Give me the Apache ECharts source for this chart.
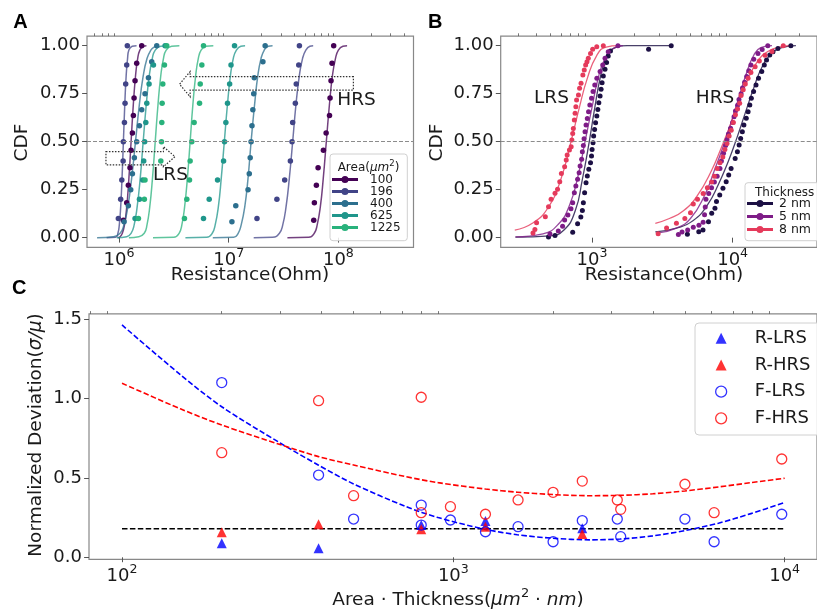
<!DOCTYPE html>
<html><head><meta charset="utf-8">
<script src="https://cdn.jsdelivr.net/npm/echarts@6/dist/echarts.min.js"></script>
<style>html,body{margin:0;padding:0;background:#fff}#c{width:817px;height:615px}</style>
</head><body><div id="c"></div>
<script>
// ---------------- Panel A : CDF vs resistance for different areas ----------------
const areaLabels = ['100', '196', '400', '625', '1225'];
const a100Lrs = [[1.096e6,.091],[1.175e6,.182],[1.216e6,.273],[1.259e6,.364],[1.288e6,.455],[1.324e6,.545],[1.352e6,.636],[1.371e6,.727],[1.400e6,.818],[1.449e6,.909],[1.61e6,1]];
const a100Hrs = [[5.96e7,.091],[6.04e7,.182],[6.30e7,.273],[6.53e7,.364],[7.30e7,.455],[7.73e7,.545],[8.30e7,.636],[8.40e7,.727],[8.57e7,.818],[8.75e7,.909],[9.06e7,1]];
const a196Lrs = [[0.986e6,.1],[1.035e6,.2],[1.06e6,.3],[1.09e6,.4],[1.095e6,.5],[1.12e6,.6],[1.135e6,.7],[1.15e6,.8],[1.175e6,.9],[1.19e6,1]];
const a196Hrs = [[1.81e7,.1],[2.75e7,.2],[3.24e7,.3],[3.65e7,.4],[3.78e7,.5],[3.83e7,.6],[4.05e7,.7],[4.13e7,.8],[4.35e7,.9],[4.41e7,1]];
const a400Lrs = [[1.112e6,.083],[1.216e6,.167],[1.279e6,.25],[1.324e6,.333],[1.380e6,.417],[1.449e6,.5],[1.535e6,.583],[1.61e6,.667],[1.726e6,.75],[1.854e6,.833],[1.986e6,.917],[2.208e6,1]];
const a400Hrs = [[1.07e7,.083],[1.16e7,.167],[1.50e7,.25],[1.54e7,.333],[1.57e7,.417],[1.60e7,.5],[1.63e7,.583],[1.66e7,.667],[1.69e7,.75],[1.71e7,.833],[2.05e7,.917],[2.15e7,1]];
const a625Lrs = [[1.40e6,.1],[1.535e6,.2],[1.644e6,.3],[1.679e6,.4],[1.714e6,.5],[1.754e6,.6],[1.791e6,.7],[1.879e6,.8],[2.06e6,.9],[2.63e6,1]];
const a625Hrs = [[5.89e6,.1],[6.64e6,.2],[7.91e6,.3],[8.98e6,.4],[9.16e6,.5],[9.42e6,.6],[9.75e6,.7],[1.02e7,.8],[1.05e7,.9],[1.13e7,1]];
const a1225Lrs = [[1.503e6,.1],[1.702e6,.2],[1.726e6,.3],[2.404e6,.4],[2.438e6,.5],[2.455e6,.6],[2.472e6,.7],[2.506e6,.8],[2.594e6,.9],[2.723e6,1]];
const a1225Hrs = [[3.95e6,.1],[4.15e6,.2],[4.39e6,.3],[4.45e6,.4],[4.61e6,.5],[4.84e6,.6],[5.42e6,.7],[5.50e6,.8],[5.69e6,.9],[5.89e6,1]];
// fitted CDF curves
const a100LrsFit = [[9.77e5,0],[1.023e6,.005],[1.072e6,.023],[1.122e6,.067],[1.175e6,.159],[1.230e6,.309],[1.288e6,.5],[1.349e6,.691],[1.413e6,.841],[1.479e6,.933],[1.549e6,.977],[1.660e6,.997],[1.778e6,1]];
const a100HrsFit = [[3.43e7,0],[5.37e7,.002],[6.03e7,.023],[6.41e7,.067],[6.84e7,.159],[7.28e7,.309],[7.76e7,.5],[8.28e7,.691],[8.81e7,.841],[9.40e7,.933],[1.0e8,.977],[1.10e8,.997],[1.20e8,1]];
const a196LrsFit = [[7.71e5,0],[9.33e5,.002],[9.77e5,.023],[1.006e6,.067],[1.035e6,.159],[1.065e6,.309],[1.096e6,.5],[1.128e6,.691],[1.161e6,.841],[1.196e6,.933],[1.230e6,.977],[1.318e6,.997],[1.445e6,1]];
const a196HrsFit = [[1.69e7,0],[2.51e7,.002],[2.90e7,.023],[3.11e7,.067],[3.33e7,.159],[3.57e7,.309],[3.83e7,.5],[4.10e7,.691],[4.40e7,.841],[4.71e7,.933],[5.05e7,.977],[5.50e7,.997],[5.89e7,1]];
const a400LrsFit = [[6.31e5,0],[8.91e5,.005],[1.023e6,.023],[1.109e6,.067],[1.202e6,.159],[1.303e6,.309],[1.413e6,.5],[1.531e6,.691],[1.660e6,.841],[1.799e6,.933],[1.950e6,.977],[2.089e6,.993],[2.239e6,1]];
const a400HrsFit = [[7.16e6,0],[1.11e7,.002],[1.22e7,.023],[1.30e7,.067],[1.40e7,.159],[1.50e7,.309],[1.60e7,.5],[1.72e7,.691],[1.84e7,.841],[1.97e7,.933],[2.11e7,.977],[2.29e7,.997],[2.51e7,1]];
const a625LrsFit = [[9.55e5,0],[1.175e6,.005],[1.288e6,.023],[1.374e6,.067],[1.462e6,.159],[1.560e6,.309],[1.660e6,.5],[1.770e6,.691],[1.884e6,.841],[2.009e6,.933],[2.138e6,.977],[2.399e6,.997],[2.818e6,1]];
const a625HrsFit = [[4.03e6,0],[6.31e6,.002],[7.08e6,.023],[7.53e6,.067],[8.04e6,.159],[8.55e6,.309],[9.12e6,.5],[9.73e6,.691],[1.035e7,.841],[1.10e7,.933],[1.175e7,.977],[1.29e7,.997],[1.41e7,1]];
const a1225LrsFit = [[1.230e6,0],[1.514e6,.005],[1.698e6,.023],[1.799e6,.067],[1.905e6,.159],[2.018e6,.309],[2.138e6,.5],[2.265e6,.691],[2.399e6,.841],[2.541e6,.933],[2.692e6,.977],[3.020e6,.997],[3.548e6,1]];
const a1225HrsFit = [[2.04e6,0],[3.16e6,.002],[3.53e6,.023],[3.74e6,.067],[3.96e6,.159],[4.20e6,.309],[4.45e6,.5],[4.71e6,.691],[4.99e6,.841],[5.28e6,.933],[5.60e6,.977],[6.17e6,.997],[7.24e6,1]];

// ---------------- Panel B : CDF vs resistance for different thicknesses ----------------
const thickLabels = ['2 nm', '5 nm', '8 nm'];
const b2Lrs = [[490,.004],[545,.012],[728,.029],[789,.073],[832,.108],[853,.142],[867,.182],[885,.234],[906,.286],[925,.321],[948,.356],[975,.391],[991,.425],[1000,.46],[1016,.495],[1026,.53],[1042,.564],[1059,.599],[1081,.634],[1099,.668],[1117,.703],[1140,.738],[1159,.773],[1178,.807],[1202,.842],[1236,.877],[1268,.912],[1303,.946],[1352,.972],[2524,.981],[3656,1]];
const b5Lrs = [[502,.019],[575,.035],[617,.06],[638,.092],[673,.118],[708,.151],[728,.182],[748,.234],[767,.269],[789,.304],[809,.338],[822,.373],[843,.408],[853,.448],[867,.48],[877,.515],[891,.552],[906,.587],[925,.621],[944,.656],[964,.691],[991,.726],[1016,.761],[1045,.795],[1081,.830],[1140,.865],[1191,.900],[1236,.934],[1303,.969],[1528,1]];
const b8Lrs = [[380,.025],[392,.043],[403,.078],[465,.109],[490,.161],[511,.200],[545,.231],[568,.252],[589,.292],[605,.335],[638,.370],[655,.405],[665,.431],[690,.457],[710,.474],[718,.509],[728,.543],[736,.569],[748,.613],[757,.648],[767,.682],[776,.717],[800,.743],[815,.778],[835,.804],[860,.847],[880,.873],[900,.899],[920,.917],[940,.934],[975,.960],[1010,.981],[1080,.995],[1202,1]];
const b2Hrs = [[4764,.018],[5741,.031],[6152,.04],[6730,.083],[7096,.127],[7482,.153],[7674,.188],[8091,.222],[8531,.257],[8995,.292],[9376,.326],[9750,.361],[10420,.413],[10810,.448],[11120,.483],[11400,.517],[11720,.552],[12020,.587],[12500,.622],[12880,.656],[13240,.691],[13580,.726],[14090,.761],[14660,.795],[15280,.83],[16110,.865],[16790,.899],[17420,.925],[18370,.951],[19360,.969],[20990,.986],[25940,1]];
const b5Hrs = [[4111,.017],[4365,.03],[4786,.04],[5248,.055],[5754,.065],[6166,.08],[6310,.12],[6383,.16],[6457,.2],[6761,.23],[7079,.26],[7413,.29],[7762,.32],[8128,.36],[8318,.40],[8610,.44],[8913,.48],[9120,.51],[9333,.54],[9661,.57],[10000,.60],[10230,.63],[10470,.66],[10840,.69],[11090,.72],[11480,.75],[11750,.78],[12160,.81],[12590,.84],[13030,.87],[13490,.90],[14130,.93],[15140,.96],[16220,.98],[17780,1]];
const b8Hrs = [[2951,.02],[3388,.05],[3981,.075],[4571,.10],[5012,.13],[5248,.175],[5623,.20],[6166,.23],[6607,.26],[7079,.29],[7413,.32],[7762,.36],[8128,.39],[8511,.42],[8810,.46],[9120,.49],[9441,.53],[9772,.56],[10120,.60],[10470,.64],[10840,.67],[11220,.70],[11480,.74],[11890,.77],[12300,.80],[12880,.83],[13490,.86],[14450,.89],[15490,.92],[16980,.95],[19050,.97],[22910,1]];
const b2LrsFit = [[285,.003],[501,.01],[631,.04],[759,.14],[851,.30],[955,.5],[1047,.68],[1148,.84],[1259,.94],[1413,.985],[1778,1],[3656,1]];
const b5LrsFit = [[285,.004],[447,.02],[575,.07],[692,.17],[794,.32],[891,.5],[1000,.68],[1096,.82],[1230,.93],[1413,.985],[1660,1]];
const b8LrsFit = [[282,.04],[376,.075],[490,.16],[603,.31],[708,.5],[809,.674],[925,.83],[1081,.95],[1259,.993],[1549,1]];
const b2HrsFit = [[2818,.03],[3981,.05],[5248,.09],[6607,.17],[7943,.28],[9333,.40],[10720,.52],[12300,.65],[14130,.78],[16220,.89],[19050,.96],[22390,.99],[28180,1]];
const b5HrsFit = [[2951,.025],[3981,.05],[5012,.10],[6310,.22],[7413,.35],[8511,.47],[9550,.58],[10960,.72],[12590,.86],[14130,.95],[15850,.99],[19050,1]];
const b8HrsFit = [[2818,.075],[3548,.10],[4467,.14],[5623,.22],[7079,.35],[8318,.47],[9550,.58],[10960,.70],[12590,.81],[14790,.91],[17780,.97],[22390,.995],[26300,1]];

// ---------------- Panel C : normalized deviation vs area*thickness ----------------
const cXR = [200, 392, 800, 1250, 2450];
const rLrs = [0.088, 0.057, 0.203, 0.229, 0.183];
const rHrs = [0.157, 0.208, 0.176, 0.193, 0.147];
const cXF = [200, 392, 500, 800, 800, 980, 1250, 1568, 2000, 2450, 3125, 3200, 5000, 6125, 9800];
const fLrs = [1.10, 0.518, 0.241, 0.329, 0.203, 0.235, 0.161, 0.193, 0.098, 0.231, 0.241, 0.130, 0.241, 0.098, 0.271];
const fHrs = [0.659, 0.986, 0.388, 1.008, 0.281, 0.319, 0.271, 0.361, 0.409, 0.480, 0.361, 0.302, 0.460, 0.281, 0.619];
const cFitX = [100, 150, 200, 300, 392, 500, 718, 900, 1250, 1560, 2000, 2580, 3185, 4000, 5000, 6310, 7910, 10000];
const cFitLrs = [1.463, 1.15, 0.948, 0.72, 0.58, 0.462, 0.32, 0.25, 0.176, 0.142, 0.12, 0.11, 0.115, 0.135, 0.168, 0.215, 0.275, 0.345];
const cFitHrs = [1.096, 0.935, 0.833, 0.71, 0.634, 0.581, 0.508, 0.47, 0.43, 0.41, 0.395, 0.388, 0.39, 0.40, 0.418, 0.443, 0.47, 0.498];
const cRefX = [100, 10000];
const cRefY = 0.18;

// ---------------- tick values ----------------
const aMajor = [1e6, 1e7, 1e8];
const aMinor = [6e5,7e5,8e5,9e5,2e6,3e6,4e6,5e6,6e6,7e6,8e6,9e6,2e7,3e7,4e7,5e7,6e7,7e7,8e7,9e7,2e8,3e8,4e8];
const bMajor = [1e3, 1e4];
const bMinor = [3e2,4e2,5e2,6e2,7e2,8e2,9e2,2e3,3e3,4e3,5e3,6e3,7e3,8e3,9e3,2e4,3e4];
const cMajor = [1e2, 1e3, 1e4];
const cMinor = [8e1,9e1,2e2,3e2,4e2,5e2,6e2,7e2,8e2,9e2,2e3,3e3,4e3,5e3,6e3,7e3,8e3,9e3];
const yTicksAB = [0, 0.25, 0.5, 0.75, 1];
const yTicksC = [0, 0.5, 1, 1.5];

// ---------------- styling ----------------
const FONT = 'DejaVu Sans';
const TXT = '#1a1a1a';
const areaColors = ['#440154', '#414487', '#2c6f8e', '#1f968b', '#29b27c'];
const thickColors = ['#1c1044', '#7e1c87', '#e53a5b'];
const legendIcon = 'path://M0,2L26,2L26,5L0,5Z M9.5,3.5A3.5,3.5 0 1,1 16.5,3.5A3.5,3.5 0 1,1 9.5,3.5Z';

const chart = echarts.init(document.getElementById('c'), null, {renderer: 'canvas'});

function logLabel(v) { return '{b|10}{e|' + Math.round(Math.log10(v)) + '}'; }
const logRich = {
  b: {fontFamily: FONT, fontSize: 18, lineHeight: 26, color: TXT},
  e: {fontFamily: FONT, fontSize: 12.6, lineHeight: 13, verticalAlign: 'top', color: TXT}
};
function logAxes(gi, min, max, major, minor, margin) {
  return [
    {type: 'log', gridIndex: gi, min, max, axisLine: {show: false}, splitLine: {show: false},
     axisTick: {show: true, customValues: major, length: 4.9, lineStyle: {color: '#555', width: 1}},
     axisLabel: {customValues: major, formatter: logLabel, rich: logRich, margin}},
    {type: 'log', gridIndex: gi, min, max, axisLine: {show: false}, splitLine: {show: false},
     axisTick: {show: true, customValues: minor, length: 2.8, lineStyle: {color: '#555', width: 0.8}},
     axisLabel: {show: false}}
  ];
}
function yAxis(gi, min, max, ticks, digits) {
  return {type: 'value', gridIndex: gi, min, max, axisLine: {show: false}, splitLine: {show: false},
    axisTick: {show: true, customValues: ticks, length: 4.9, lineStyle: {color: '#555', width: 1}},
    axisLabel: {customValues: ticks, margin: 7, color: TXT, fontFamily: FONT, fontSize: 18,
      formatter: v => v.toFixed(digits)}};
}
function fitLine(data, color, xi, yi, width, opacity) {
  return {type: 'line', data, xAxisIndex: xi, yAxisIndex: yi, smooth: 0.5,
    showSymbol: false, symbol: 'none', lineStyle: {color, width, opacity}, silent: true, z: 2};
}
function dots(name, data, color, xi, yi, size) {
  return {type: 'scatter', name, data, xAxisIndex: xi, yAxisIndex: yi, symbol: 'circle',
    symbolSize: size, itemStyle: {color, opacity: 1}, silent: true, z: 3};
}
const midLine = {silent: true, symbol: ['none', 'none'], label: {show: false},
  lineStyle: {color: '#8c8c8c', type: [4, 2], width: 1}, data: [{yAxis: 0.5}]};

const series = [];
const aL = [a100Lrs, a196Lrs, a400Lrs, a625Lrs, a1225Lrs];
const aH = [a100Hrs, a196Hrs, a400Hrs, a625Hrs, a1225Hrs];
const aLF = [a100LrsFit, a196LrsFit, a400LrsFit, a625LrsFit, a1225LrsFit];
const aHF = [a100HrsFit, a196HrsFit, a400HrsFit, a625HrsFit, a1225HrsFit];
for (let i = 0; i < 5; i++) {
  series.push(fitLine(aLF[i], areaColors[i], 0, 0, 1.5, 0.75));
  series.push(fitLine(aHF[i], areaColors[i], 0, 0, 1.5, 0.75));
}
series[0].markLine = midLine;
for (let i = 0; i < 5; i++) {
  series.push(dots(areaLabels[i], aL[i], areaColors[i], 0, 0, 5.5));
  series.push(dots(areaLabels[i], aH[i], areaColors[i], 0, 0, 5.5));
}
const bL = [b2Lrs, b5Lrs, b8Lrs], bH = [b2Hrs, b5Hrs, b8Hrs];
const bLF = [b2LrsFit, b5LrsFit, b8LrsFit], bHF = [b2HrsFit, b5HrsFit, b8HrsFit];
for (let i = 0; i < 3; i++) {
  series.push(fitLine(bLF[i], thickColors[i], 2, 1, 1.3, 0.8));
  series.push(fitLine(bHF[i], thickColors[i], 2, 1, 1.3, 0.8));
}
series[series.length - 1].markLine = midLine;
for (let i = 0; i < 3; i++) {
  series.push(dots(thickLabels[i], bL[i], thickColors[i], 2, 1, 5));
  series.push(dots(thickLabels[i], bH[i], thickColors[i], 2, 1, 5));
}
// panel C
series.push({type: 'line', data: cRefX.map(x => [x, cRefY]), xAxisIndex: 4, yAxisIndex: 2, symbol: 'none',
  lineStyle: {color: '#000', width: 1.6, type: [5.5, 2.4]}, silent: true, z: 2});
series.push({type: 'line', data: cFitX.map((x, i) => [x, cFitLrs[i]]), xAxisIndex: 4, yAxisIndex: 2, symbol: 'none',
  smooth: 0.3, lineStyle: {color: '#0000ff', width: 1.6, type: [5.5, 2.4]}, silent: true, z: 2});
series.push({type: 'line', data: cFitX.map((x, i) => [x, cFitHrs[i]]), xAxisIndex: 4, yAxisIndex: 2, symbol: 'none',
  smooth: 0.3, lineStyle: {color: '#ff0000', width: 1.6, type: [5.5, 2.4]}, silent: true, z: 2});
series.push({type: 'scatter', name: 'R-LRS', data: cXR.map((x, i) => [x, rLrs[i]]), xAxisIndex: 4, yAxisIndex: 2,
  symbol: 'triangle', symbolSize: 10, itemStyle: {color: '#0000ff'}, silent: true, z: 4});
series.push({type: 'scatter', name: 'R-HRS', data: cXR.map((x, i) => [x, rHrs[i]]), xAxisIndex: 4, yAxisIndex: 2,
  symbol: 'triangle', symbolSize: 10, itemStyle: {color: '#ff0000'}, silent: true, z: 4});
series.push({type: 'scatter', name: 'F-LRS', data: cXF.map((x, i) => [x, fLrs[i]]), xAxisIndex: 4, yAxisIndex: 2,
  symbol: 'circle', symbolSize: 10, itemStyle: {color: 'rgba(0,0,0,0)', borderColor: '#0000ff', borderWidth: 1.3}, silent: true, z: 4});
series.push({type: 'scatter', name: 'F-HRS', data: cXF.map((x, i) => [x, fHrs[i]]), xAxisIndex: 4, yAxisIndex: 2,
  symbol: 'circle', symbolSize: 10, itemStyle: {color: 'rgba(0,0,0,0)', borderColor: '#ff0000', borderWidth: 1.3}, silent: true, z: 4});

const gridStyle = {show: true, borderColor: '#888', borderWidth: 1.2, backgroundColor: 'rgba(0,0,0,0)'};
const option = {
  animation: false,
  backgroundColor: '#fff',
  textStyle: {fontFamily: FONT},
  grid: [
    Object.assign({left: 87, top: 36.1, width: 326.5, height: 211.2}, gridStyle),
    Object.assign({left: 500.7, top: 36.1, width: 326.3, height: 211.2}, gridStyle),
    Object.assign({left: 89, top: 313.9, width: 738, height: 245.5}, gridStyle)
  ],
  xAxis: [].concat(
    logAxes(0, 5.105e5, 4.84e8, aMajor, aMinor, 0),
    logAxes(1, 223.9, 39810, bMajor, bMinor, 0),
    logAxes(2, 79.5, 12520, cMajor, cMinor, 3.5)
  ),
  yAxis: [
    yAxis(0, -0.05, 1.05, yTicksAB, 2),
    yAxis(1, -0.05, 1.05, yTicksAB, 2),
    yAxis(2, -0.0132, 1.5327, yTicksC, 1)
  ],
  legend: [
    {orient: 'vertical', left: 332, top: 173.5, padding: 0, itemWidth: 26, itemHeight: 7, itemGap: 0,
     icon: legendIcon, selectedMode: false, z: 20, data: areaLabels,
     textStyle: {fontFamily: FONT, fontSize: 12, lineHeight: 12, color: TXT, padding: [0, 0, 0, 7]}},
    {orient: 'vertical', left: 747, top: 197, padding: 0, itemWidth: 26, itemHeight: 7, itemGap: 0,
     icon: legendIcon, selectedMode: false, z: 20, data: thickLabels,
     textStyle: {fontFamily: FONT, fontSize: 12.5, lineHeight: 12, color: TXT, padding: [0, 0, 0, 1]}},
    {orient: 'vertical', left: 715, top: 329.3, padding: 0, itemWidth: 11, itemHeight: 11, itemGap: 8.67,
     selectedMode: false, z: 20,
     data: [
       {name: 'R-LRS', icon: 'triangle', itemStyle: {color: '#0000ff'}},
       {name: 'R-HRS', icon: 'triangle', itemStyle: {color: '#ff0000'}},
       {name: 'F-LRS', icon: 'circle', itemStyle: {color: 'rgba(0,0,0,0)', borderColor: '#0000ff', borderWidth: 1.3}},
       {name: 'F-HRS', icon: 'circle', itemStyle: {color: 'rgba(0,0,0,0)', borderColor: '#ff0000', borderWidth: 1.3}}
     ],
     textStyle: {fontFamily: FONT, fontSize: 18, lineHeight: 18, color: TXT, padding: [0, 0, 0, 23]}}
  ],
  series
};
chart.setOption(option);

// ---------------- annotations ----------------
const P = (xi, yi, x, y) => chart.convertToPixel({xAxisIndex: xi, yAxisIndex: yi}, [x, y]);
function arrow(xi, yi, a) {
  const mid = (a.headTop + a.headBot) / 2;
  return [
    P(xi, yi, a.tail, a.bodyTop), P(xi, yi, a.headBase, a.bodyTop), P(xi, yi, a.headBase, a.headTop),
    P(xi, yi, a.tip, mid), P(xi, yi, a.headBase, a.headBot), P(xi, yi, a.headBase, a.bodyBot),
    P(xi, yi, a.tail, a.bodyBot)
  ];
}
const hrsArrow = {tail: 1.37e8, headBase: 4.45e6, tip: 3.56e6, bodyTop: 0.839, bodyBot: 0.769, headTop: 0.865, headBot: 0.734};
const lrsArrow = {tail: 7.6e5, headBase: 2.54e6, tip: 3.24e6, bodyTop: 0.448, bodyBot: 0.379, headTop: 0.474, headBot: 0.370};
const arrowStyle = {fill: 'none', stroke: '#333', lineWidth: 1.2, lineDash: [1.5, 1.5]};
function txt(x, y, text, size, extra) {
  return Object.assign({type: 'text', x, y, z: 30,
    style: Object.assign({text, fontFamily: FONT, fontSize: size, fill: TXT, align: 'center', verticalAlign: 'middle'}, extra || {})});
}
const boxStyle = {fill: 'rgba(255,255,255,0.85)', stroke: '#d0d0d0', lineWidth: 1};
chart.setOption({
  graphic: [
    {type: 'polygon', z: 5, shape: {points: arrow(0, 0, hrsArrow)}, style: arrowStyle},
    {type: 'polygon', z: 5, shape: {points: arrow(0, 0, lrsArrow)}, style: arrowStyle},
    {type: 'rect', z: 15, shape: {x: 330, y: 154, width: 77.3, height: 86.7, r: 3}, style: boxStyle},
    {type: 'rect', z: 15, shape: {x: 745, y: 182.7, width: 100, height: 58, r: 3}, style: boxStyle},
    {type: 'rect', z: 15, shape: {x: 695, y: 323, width: 140, height: 112, r: 4}, style: boxStyle},
    txt(13.3, 22.2, 'A', 20, {fontFamily: 'Liberation Sans', fontWeight: 'bold', align: 'left', fill: '#000'}),
    txt(428, 22.2, 'B', 20, {fontFamily: 'Liberation Sans', fontWeight: 'bold', align: 'left', fill: '#000'}),
    txt(12, 288.5, 'C', 20, {fontFamily: 'Liberation Sans', fontWeight: 'bold', align: 'left', fill: '#000'}),
    txt(356.5, 100, 'HRS', 18.5),
    txt(170.5, 175, 'LRS', 18.5),
    txt(551.5, 98.5, 'LRS', 18.5),
    txt(715, 98.5, 'HRS', 18.5),
    txt(250, 275, 'Resistance(Ohm)', 18.5),
    txt(664, 275, 'Resistance(Ohm)', 18.5),
    Object.assign(txt(22, 142.5, 'CDF', 18.5), {rotation: Math.PI / 2}),
    Object.assign(txt(437.5, 142.5, 'CDF', 18.5), {rotation: Math.PI / 2}),
    Object.assign(txt(36, 435, '{n|Normalized Deviation(}{i|σ/μ}{n|)}', 18.5, {rich: {
      n: {fontFamily: FONT, fontSize: 18.5, fill: TXT},
      i: {fontFamily: FONT, fontSize: 18.5, fontStyle: 'italic', fill: TXT}}}), {rotation: Math.PI / 2}),
    txt(458, 600, '{n|Area · Thickness(}{i|μm}{s|2}{n| · }{i|nm}{n|)}', 18.5, {rich: {
      n: {fontFamily: FONT, fontSize: 18.5, lineHeight: 26, fill: TXT},
      i: {fontFamily: FONT, fontSize: 18.5, lineHeight: 26, fontStyle: 'italic', fill: TXT},
      s: {fontFamily: FONT, fontSize: 13, lineHeight: 13, verticalAlign: 'top', fill: TXT}}}),
    txt(368.5, 167.5, '{n|Area(}{i|μm}{s|2}{n|)}', 12, {rich: {
      n: {fontFamily: FONT, fontSize: 12, lineHeight: 16, fill: TXT},
      i: {fontFamily: FONT, fontSize: 12, lineHeight: 16, fontStyle: 'italic', fill: TXT},
      s: {fontFamily: FONT, fontSize: 8.5, lineHeight: 8.5, verticalAlign: 'top', fill: TXT}}}),
    txt(755, 192.5, 'Thickness', 12, {align: 'left'})
  ]
});
</script></body></html>
